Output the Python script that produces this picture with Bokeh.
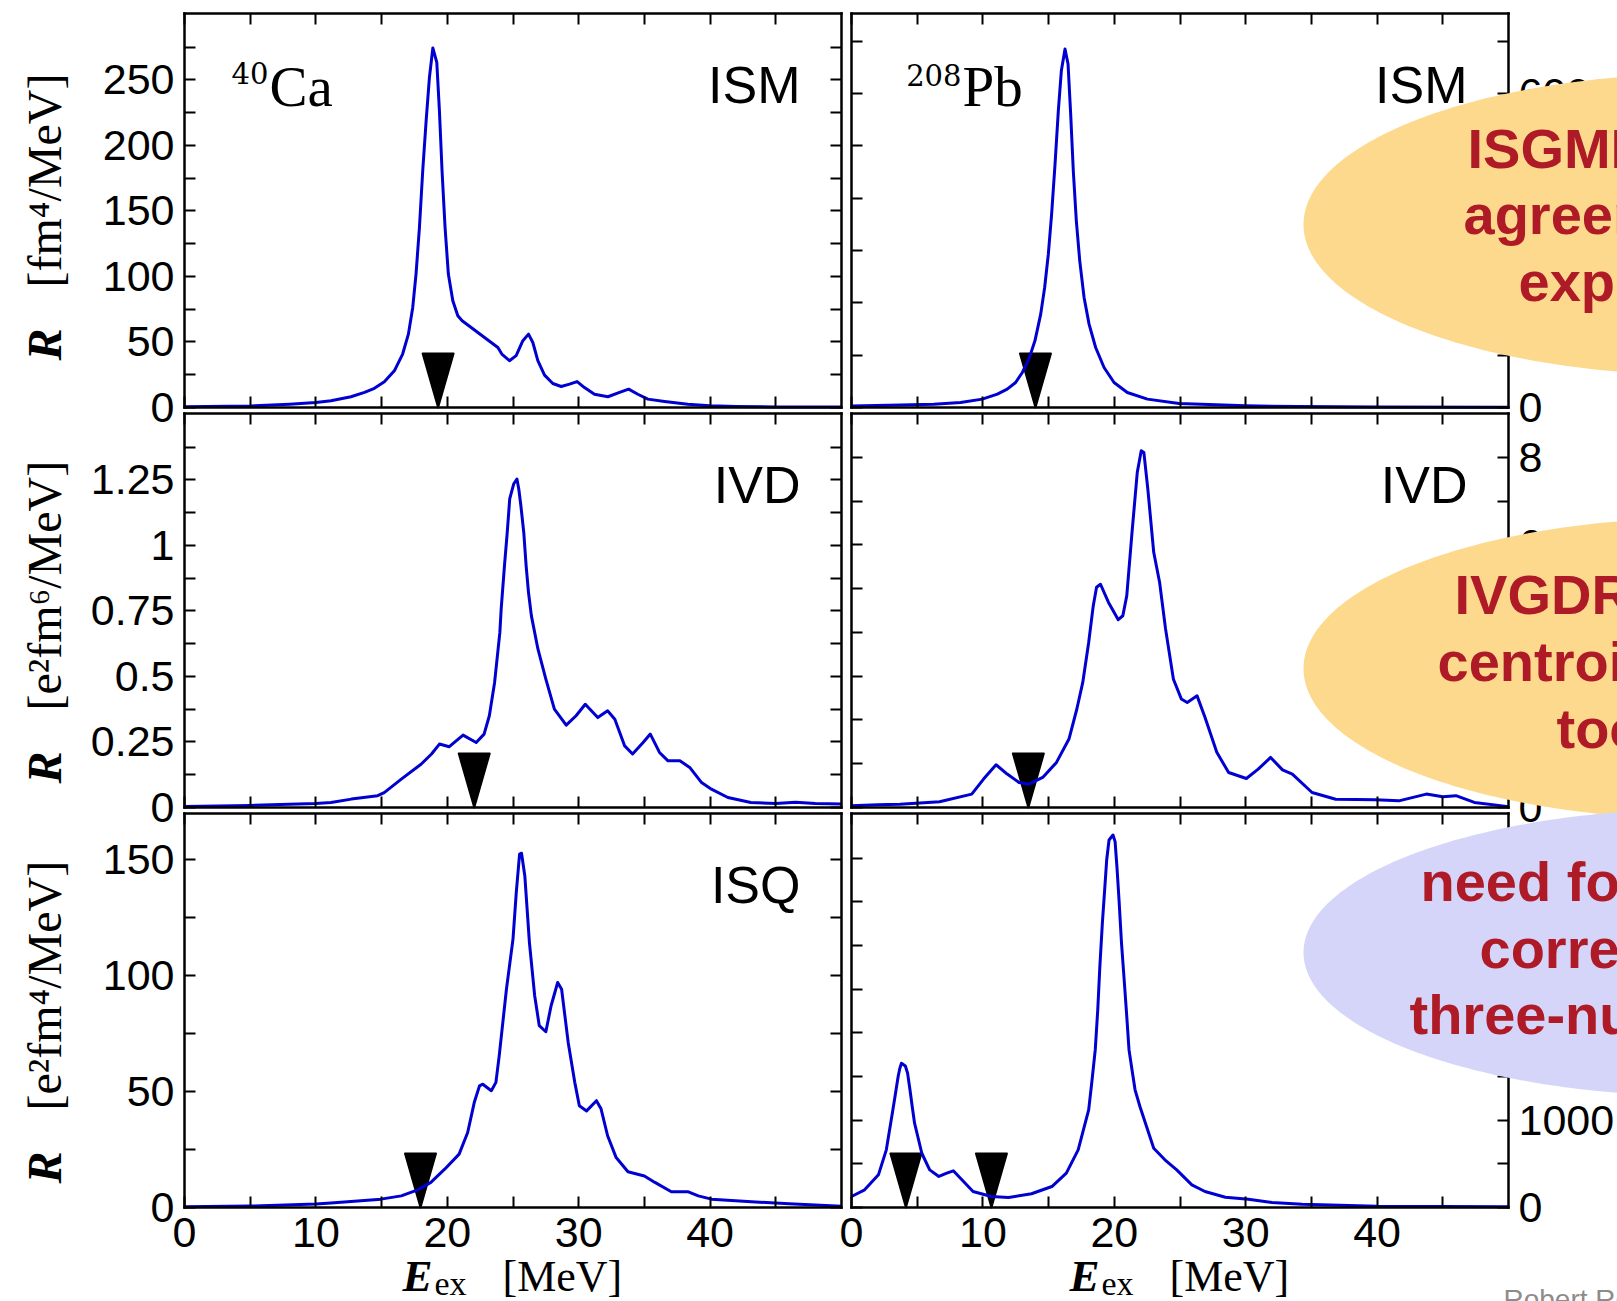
import numpy as np
from bokeh.plotting import figure
from bokeh.models import Range1d, LinearAxis, FixedTicker, Label, PolyAnnotation, NumeralTickFormatter
from bokeh.embed import file_html
from bokeh.resources import INLINE

# ---------------- data ----------------
x_major = [0, 10, 20, 30, 40]
x_minor = [5, 15, 25, 35, 45]

ca_ism_E = [0, 5, 8, 10, 11.15, 12.67, 13.7, 14.45, 15.21, 15.97, 16.6, 17.04, 17.37, 17.62, 17.88, 18.13,
            18.39, 18.64, 18.9, 19.2, 19.4, 19.6, 19.83, 20.08, 20.42, 20.8, 21.13, 23.85, 24.15, 24.73,
            25.24, 25.75, 26.18, 26.51, 26.89, 27.4, 28.03, 28.67, 29.3, 29.88, 30.44, 31.2, 32.22,
            33.11, 33.8, 34.5, 35.26, 36.54, 38.3, 39.97, 42, 45, 50]
ca_ism_R = [0.5, 1.2, 2.5, 3.8, 5.1, 8.2, 11.5, 14.6, 19.6, 28, 40.8, 56, 76.4, 101.8, 137.4, 180.7,
            219, 252, 274.4, 263.4, 226.6, 180.7, 137.4, 101.8, 81.4, 70, 66.2, 45.8, 40.8, 35.7,
            39.6, 51, 56, 49.6, 35.7, 24.7, 18.3, 16, 17.8, 19.8, 15.2, 10.1, 8.2,
            11.5, 14, 10.1, 6.4, 4.6, 2.5, 1.3, 0.7, 0.4, 0.3]
ca_ism_centroid = [19.3]

pb_ism_E = [0, 3.73, 6.27, 8.3, 9.95, 11.1, 11.85, 12.49, 13.0, 13.5, 13.96, 14.4, 14.7, 14.98, 15.23,
            15.49, 15.74, 15.97, 16.25, 16.48, 16.68, 16.88, 17.11, 17.37, 17.7, 18.08, 18.58, 19.22,
            19.98, 20.99, 22.52, 24.93, 30.0, 34, 40, 50]
pb_ism_R = [30, 50, 64, 96, 160, 255, 351, 478, 669, 924, 1274, 1784, 2294, 2931, 3695,
            4651, 5670, 6434, 6850, 6565, 5606, 4523, 3568, 2803, 2102, 1593, 1147, 765,
            478, 287, 160, 76, 32, 18, 10, 5]
pb_ism_centroid = [14.0]

ca_ivd_E = [0, 5, 10, 11.15, 12.7, 14.7, 15.2, 16.5, 18.0, 18.8, 19.4, 20.15, 21.2, 22.2, 22.8, 23.2,
            23.6, 24.0, 24.1, 24.35, 24.56, 24.75, 25.05, 25.3, 25.44, 25.6, 25.82, 26.0, 26.18, 26.4,
            26.9, 27.5, 28.15, 29.05, 29.8, 30.5, 31.45, 32.2, 32.75, 33.5, 34.1, 34.9, 35.45, 36.15,
            36.8, 37.7, 38.45, 39.35, 40.1, 41.35, 43.1, 45, 46.5, 48, 50]
ca_ivd_R = [0.004, 0.008, 0.015, 0.019, 0.032, 0.045, 0.057, 0.108, 0.165, 0.204, 0.242, 0.232, 0.276,
            0.248, 0.28, 0.35, 0.477, 0.668, 0.757, 0.922, 1.049, 1.177, 1.234, 1.253, 1.215, 1.151,
            1.049, 0.922, 0.82, 0.731, 0.604, 0.49, 0.375, 0.314, 0.35, 0.394, 0.343, 0.369, 0.337,
            0.235, 0.204, 0.248, 0.28, 0.21, 0.178, 0.178, 0.153, 0.095, 0.070, 0.038, 0.019, 0.015,
            0.02, 0.015, 0.013]
ca_ivd_centroid = [22.05]

pb_ivd_E = [0, 2, 3.7, 6.7, 9.15, 10.05, 11.0, 11.85, 12.75, 13.5, 14.55, 15.6, 16.55, 17.15, 17.6,
            18.05, 18.4, 18.65, 18.95, 19.55, 20.3, 20.65, 20.95, 21.35, 21.75, 22.05, 22.25, 22.55,
            23.0, 23.45, 23.9, 24.5, 25.1, 25.55, 26.3, 26.9, 27.8, 28.7, 30.05, 30.95, 31.9, 32.8,
            33.55, 35.05, 36.85, 39.85, 41.65, 43.75, 45.0, 46.0, 47.4, 50]
pb_ivd_R = [0.04, 0.06, 0.077, 0.13, 0.306, 0.649, 0.976, 0.763, 0.571, 0.533, 0.686, 1.03, 1.563,
            2.25, 2.857, 3.77, 4.61, 5.03, 5.1, 4.69, 4.29, 4.38, 4.84, 6.29, 7.66, 8.15, 8.11, 7.28,
            5.83, 5.14, 4.08, 2.93, 2.48, 2.40, 2.55, 2.06, 1.26, 0.80, 0.663, 0.877, 1.143, 0.86,
            0.763, 0.343, 0.19, 0.175, 0.152, 0.306, 0.245, 0.27, 0.115, 0.02]
pb_ivd_centroid = [13.46]

ca_isq_E = [0, 5, 10, 11.15, 14.95, 16.5, 17.75, 18.75, 19.8, 20.9, 21.55, 22.05, 22.45, 22.7, 23.35,
            23.7, 23.95, 24.5, 25.0, 25.25, 25.5, 25.65, 25.9, 26.25, 26.65, 27.0, 27.5, 27.9, 28.4,
            28.7, 29.2, 29.7, 30.05, 30.6, 31.35, 31.7, 32.2, 32.85, 33.75, 35.0, 35.8, 37.05, 38.3,
            39.1, 40.1, 43.15, 46, 50]
ca_isq_R = [0.3, 0.6, 1.5, 1.9, 3.6, 5.0, 7.6, 10.8, 16.5, 23, 32.3, 45.2, 52.4, 53.1, 50.3,
            53.9, 65.3, 94, 115.6, 135.7, 152.2, 152.6, 142.8, 114.1, 91.2, 78.3, 75.7, 86.9, 96.9,
            94, 71.1, 53.9, 43.8, 41.6, 46, 42.5, 30.9, 21.5, 15.4, 13.6, 10.8, 6.8, 6.8,
            5.0, 3.6, 2.5, 1.6, 0.5]
ca_isq_centroid = [17.96]

pb_isq_E = [0, 1.0, 2.05, 2.65, 3.15, 3.35, 3.55, 3.68, 3.8, 4.1, 4.27, 4.45, 4.62, 4.8, 5.35, 5.95, 6.65,
            7.25, 7.75, 8.4, 9.25, 10.65, 11.95, 13.7, 15.25, 16.35, 17.25, 18.05, 18.28, 18.55, 18.74,
            18.9, 19.09, 19.3, 19.42, 19.6, 19.9, 20.06, 20.2, 20.36, 20.55, 20.77, 20.95, 21.12, 21.35,
            21.58, 21.95, 23.0, 23.85, 24.75, 25.9, 26.9, 28.45, 30.2, 32.0, 34.3, 40, 50]
pb_isq_R = [126, 202, 374, 660, 1118, 1308, 1499, 1594, 1651, 1620, 1537, 1347, 1156, 965, 621, 431, 355,
            393, 420, 317, 183, 126, 114, 157, 240, 393, 660, 1118, 1422, 1804, 2261,
            2757, 3253, 3711, 3978, 4207, 4264, 4188, 3902, 3520, 3024, 2567, 2185, 1804, 1575,
            1347, 1156, 679, 546, 431, 259, 183, 118, 95, 57, 38, 15, 8]
pb_isq_centroid = [4.14, 10.65]

ca_ism_ticks, ca_ism_minor = [0, 50, 100, 150, 200, 250], [25, 75, 125, 175, 225, 275]
ca_ivd_ticks, ca_ivd_minor = [0, 0.25, 0.5, 0.75, 1, 1.25], [0.125, 0.375, 0.625, 0.875, 1.125, 1.375]
ca_isq_ticks, ca_isq_minor = [0, 50, 100, 150], [25, 75, 125]
pb_ism_ticks, pb_ism_minor = [0, 2000, 4000, 6000], [1000, 3000, 5000, 7000]
pb_ivd_ticks, pb_ivd_minor = [0, 2, 4, 6, 8], [1, 3, 5, 7]
pb_isq_ticks, pb_isq_minor = [0, 1000, 2000, 3000, 4000], [500, 1500, 2500, 3500]

modes = ["ISM", "IVD", "ISQ"]
nuclei = [("40", "Ca"), ("208", "Pb")]
y_units = ["[fm⁴/MeV]", "[e²fm⁶/MeV]", "[e²fm⁴/MeV]"]
bubble_lines = [["ISGMR", "agreement", "experiment"],
                ["IVGDR", "centroid", "too"],
                ["need for", "correlations", "three-nucleon"]]

series = [[(ca_ism_E, ca_ism_R, ca_ism_centroid), (pb_ism_E, pb_ism_R, pb_ism_centroid)],
          [(ca_ivd_E, ca_ivd_R, ca_ivd_centroid), (pb_ivd_E, pb_ivd_R, pb_ivd_centroid)],
          [(ca_isq_E, ca_isq_R, ca_isq_centroid), (pb_isq_E, pb_isq_R, pb_isq_centroid)]]
ticks = [[(ca_ism_ticks, ca_ism_minor), (pb_ism_ticks, pb_ism_minor)],
         [(ca_ivd_ticks, ca_ivd_minor), (pb_ivd_ticks, pb_ivd_minor)],
         [(ca_isq_ticks, ca_isq_minor), (pb_isq_ticks, pb_isq_minor)]]

# ---------------- page layout (pixels) / style ----------------
PW, PH = 1617, 1301
FW, FH = 657, 394
X_END = 50
Y_ENDS = [[300.7, 7530], [1.503, 9.0], [169.7, 4510]]
L = [184, 851]
T = [13, 413, 813]
B = [t + FH for t in T]
BLUE = "#0000D0"
SANS = "Liberation Sans"
SERIF = "Liberation Serif"
DSERIF = "DejaVu Serif"
RED = "#AE1A26"
ORANGE = "#FDD98E"
LAVENDER = "#D5D5FA"
ELLIPSES = [(1708, 224, 405, 151, ORANGE), (1708, 668, 405, 151, ORANGE), (1708, 952, 405, 144, LAVENDER)]
BUBBLE_TEXT_POS = [[(1467, 167), (1463, 233), (1518, 300)],
                   [(1454, 613), (1437, 680), (1556, 747)],
                   [(1420, 900), (1479, 967), (1409, 1033)]]
MID = {SANS: 0.346, SERIF: 0.3375, DSERIF: 0.346}   # baseline -> middle offset (em)

p = figure(width=PW, height=PH, x_range=Range1d(0, PW), y_range=Range1d(PH, 0),
           output_backend="svg", toolbar_location=None, x_axis_location=None, y_axis_location=None,
           min_border=0, min_border_left=0, min_border_right=0, min_border_top=0, min_border_bottom=0)
p.outline_line_color = None
p.background_fill_color = "white"
p.border_fill_color = "white"
p.grid.visible = False
p.xgrid.visible = False
p.ygrid.visible = False

xr = {}
for c in range(2):
    s = -L[c] / FW * X_END
    xr[f"x{c}"] = Range1d(s, s + PW / FW * X_END)
yr = {}
for r in range(3):
    for c in range(2):
        k = Y_ENDS[r][c] / FH
        yr[f"y{r}{c}"] = Range1d(-(PH - B[r]) * k, Y_ENDS[r][c] + T[r] * k)
p.extra_x_ranges = xr
p.extra_y_ranges = yr


def style_axis(ax, fmt=None):
    ax.axis_line_width = 2.5
    ax.axis_line_color = "black"
    ax.axis_line_cap = "square"
    ax.major_tick_in = 11
    ax.major_tick_out = 0
    ax.minor_tick_in = 11
    ax.minor_tick_out = 0
    ax.major_tick_line_width = 2
    ax.minor_tick_line_width = 2
    ax.major_tick_line_color = "black"
    ax.minor_tick_line_color = "black"
    ax.major_label_text_font = SANS
    ax.major_label_text_font_size = "43px"
    ax.major_label_text_color = "black"
    ax.major_label_standoff = 10
    if fmt is not None:
        ax.formatter = fmt
    return ax


def ticker(major, minor, labelled):
    if labelled:
        return FixedTicker(ticks=major, minor_ticks=minor)
    return FixedTicker(ticks=[], minor_ticks=sorted(list(major) + list(minor)))


def txt(x, y, text, font, size, style="normal", color="black", align="left", angle=0.0):
    mid = MID[font]
    if angle:
        xx, yy = x - mid * size, y
    else:
        xx, yy = x, y - mid * size
    return Label(x=xx, y=yy, text=text, text_font=font, text_font_size=f"{size}px", text_font_style=style,
                 text_color=color, text_align=align, text_baseline="middle", angle=angle)


for r in range(3):
    for c in range(2):
        E, R, cents = series[r][c]
        ymaj, ymin = ticks[r][c]
        yend = Y_ENDS[r][c]
        xn, yn = f"x{c}", f"y{r}{c}"
        fmt = NumeralTickFormatter(format="0.[00]") if (r == 1 and c == 0) else NumeralTickFormatter(format="0")
        xfmt = NumeralTickFormatter(format="0")
        p.add_layout(style_axis(LinearAxis(x_range_name=xn, fixed_location=B[r], bounds=(0, X_END),
                                           ticker=ticker(x_major, x_minor, r == 2)), xfmt), "below")
        p.add_layout(style_axis(LinearAxis(x_range_name=xn, fixed_location=T[r], bounds=(0, X_END),
                                           ticker=ticker(x_major, x_minor, False))), "above")
        p.add_layout(style_axis(LinearAxis(y_range_name=yn, fixed_location=L[c], bounds=(0, yend),
                                           ticker=ticker(ymaj, ymin, c == 0)), fmt), "left")
        p.add_layout(style_axis(LinearAxis(y_range_name=yn, fixed_location=L[c] + FW, bounds=(0, yend),
                                           ticker=ticker(ymaj, ymin, c == 1)), fmt), "right")

        # centroid markers
        hw = 15.5 / FW * X_END
        th = 54 / FH * yend
        p.patches([[e - hw, e + hw, e] for e in cents], [[th, th, 0] for e in cents],
                  x_range_name=xn, y_range_name=yn,
                  fill_color="black", line_color="black", line_width=2, line_join="round")
        # response curve
        p.line(E, R, x_range_name=xn, y_range_name=yn, line_color=BLUE, line_width=3, line_join="round")

        # mode label
        p.add_layout(txt(L[c] + FW - 41, T[r] + 89, modes[r], SANS, 52, align="right"))
        # nucleus label
        if r == 0:
            mass, sym = nuclei[c]
            sym_x = L[c] + (85 if c == 0 else 111)
            p.add_layout(txt(sym_x, T[r] + 92, sym, SERIF, 57))
            p.add_layout(txt(sym_x - 1, T[r] + (70 if c == 0 else 72), mass, DSERIF, 29, align="right"))
        # y-axis title
        if c == 0:
            r_off = 47 if r == 0 else 24
            u_off = 120 if r == 0 else 97
            p.add_layout(txt(60, B[r] - r_off, "R", SERIF, 48, style="bold italic", angle=np.pi / 2))
            p.add_layout(txt(60, B[r] - u_off, y_units[r], SERIF, 48, angle=np.pi / 2))
        # x-axis title
        if r == 2:
            p.add_layout(txt(L[c] + 218, 1291, "E", SERIF, 45, style="bold italic"))
            p.add_layout(txt(L[c] + 250, 1294, "ex", SERIF, 34))
            p.add_layout(txt(L[c] + 318, 1291, "[MeV]", SERIF, 44))

# bubbles over the right column
t = np.linspace(0, 2 * np.pi, 300)
for (cx, cy, a, b, col) in ELLIPSES:
    p.add_layout(PolyAnnotation(xs=list(cx + a * np.cos(t)), ys=list(cy + b * np.sin(t)),
                                fill_color=col, fill_alpha=1.0, line_color=None))
for k in range(3):
    for j, (tx, ty) in enumerate(BUBBLE_TEXT_POS[k]):
        p.add_layout(txt(tx, ty, bubble_lines[k][j], SANS, 56, style="bold", color=RED))
p.add_layout(txt(1503, 1309, "Robert Roth - TU Darmstadt", SANS, 28, color="#8c8c8c"))

open("out.html", "w").write(file_html(p, INLINE))
